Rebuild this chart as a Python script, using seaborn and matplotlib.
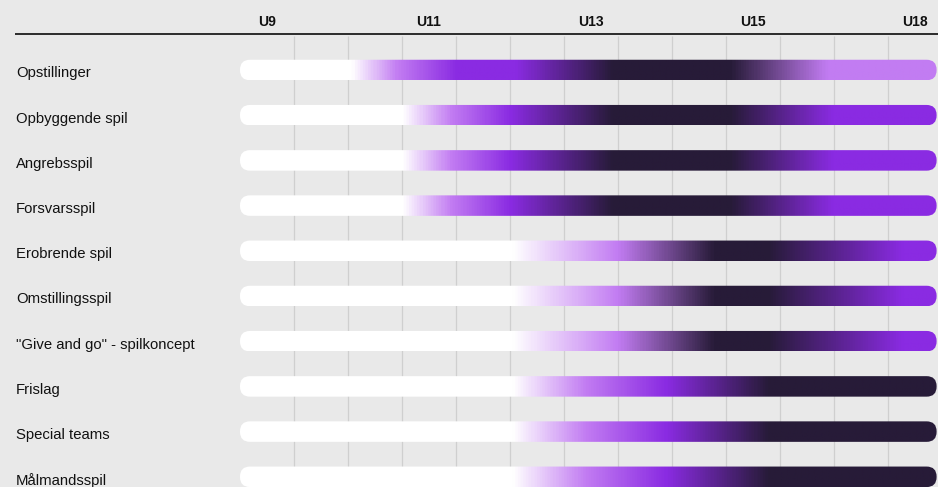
import numpy as np
import matplotlib
matplotlib.use("Agg")
import matplotlib.pyplot as plt
from matplotlib.colors import LinearSegmentedColormap
from matplotlib.patches import FancyBboxPatch
import seaborn as sns

# data
skills = ["Opstillinger", "Opbyggende spil", "Angrebsspil", "Forsvarsspil",
          "Erobrende spil", "Omstillingsspil", '"Give and go" - spilkoncept',
          "Frislag", "Special teams", "Målmandsspil"]
age_labels = ["U9", "U11", "U13", "U15", "U18"]
age_cells = [0, 3, 6, 9, 12]
n_cells = 13
bar_end = 12.9

# colours used in the gradients
W = "#ffffff"   # not started
L = "#c27cf2"   # introduced
P = "#8a2be2"   # trained
D = "#271b38"   # focus

# gradient stops per skill: (cell position, colour)
grad_early = [(0, W), (3.0, W), (3.9, L), (5.0, P), (6.9, D), (9.1, D), (11.0, P), (12.9, P)]
grad_mid = [(0, W), (5.05, W), (7.0, L), (8.8, D), (9.8, D), (12.3, P), (12.9, P)]
grad_late = [(0, W), (5.05, W), (6.4, L), (7.9, P), (9.8, D), (12.9, D)]
gradients = [
    [(0, W), (2.05, W), (2.9, L), (4.0, P), (5.1, P), (6.9, D), (9.1, D), (10.9, L), (12.9, L)],
    grad_early, grad_early, grad_early,
    grad_mid, grad_mid, grad_mid,
    grad_late, grad_late, grad_late,
]

sns.set_theme(style="white")
plt.rcParams['font.family'] = ['Liberation Sans', 'DejaVu Sans']

bg = "#e9e9e9"
fig = plt.figure(figsize=(9.38, 4.87), dpi=100, facecolor=bg)
ax = fig.add_axes([0, 0, 1, 1])
ax.set_facecolor(bg)

# pixel layout -> data units
px_x = 54.0      # px per cell
px_y = 45.2      # px per row
x0 = -240 / px_x
x1 = (938 - 240) / px_x
y_top = -70 / px_y
y_bot = (487 - 70) / px_y

h = 20.5 / px_y
r = 10 / px_x
asp = px_x / px_y

# grid
ax.vlines(np.arange(1, n_cells), ymin=y_top + 36 / px_y, ymax=y_bot,
          color="#cfcfcf", lw=0.9, zorder=0)
ax.plot([x0 + 15 / px_x, x1], [y_top + 34 / px_y] * 2, color="#2b2b2b", lw=1.4,
        solid_capstyle="butt")

for c, lab in zip(age_cells, age_labels):
    ax.text(c + 0.5, y_top + 20 / px_y, lab, ha="center", va="center_baseline",
            fontsize=10, fontweight="bold", color="#111111")

gvals = np.linspace(0, 1, 800).reshape(1, -1)
for i, (name, stops) in enumerate(zip(skills, gradients)):
    ax.text(x0 + 16 / px_x, i + 2 / px_y, name, ha="left", va="center_baseline",
            fontsize=10.7, color="#111111")
    cmap = LinearSegmentedColormap.from_list(
        f"g{i}", [(p / bar_end, col) for p, col in stops])
    im = ax.imshow(gvals, cmap=cmap, extent=[0, bar_end, i + h / 2, i - h / 2],
                   aspect="auto", interpolation="bilinear", zorder=2)
    patch = FancyBboxPatch((0, i - h / 2), bar_end, h,
                           boxstyle=f"round,pad=0,rounding_size={r}",
                           mutation_aspect=asp, facecolor="none",
                           edgecolor="none", transform=ax.transData)
    ax.add_patch(patch)
    im.set_clip_path(patch)

ax.set_xlim(x0, x1)
ax.set_ylim(y_bot, y_top)
ax.axis("off")

fig.savefig("out.png", dpi=100, facecolor=bg)
